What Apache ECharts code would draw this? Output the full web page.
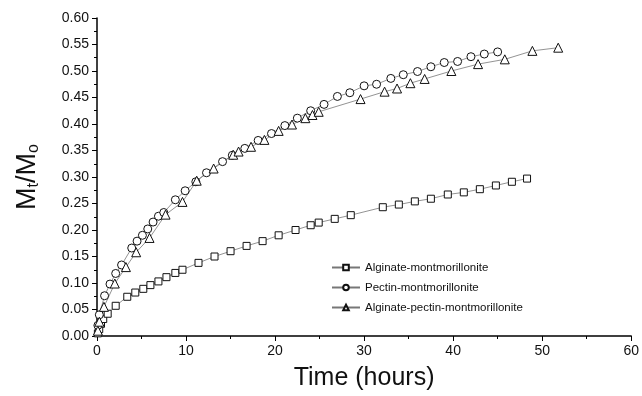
<!DOCTYPE html>
<html>
<head>
<meta charset="utf-8">
<script src="https://cdn.jsdelivr.net/npm/echarts@6/dist/echarts.min.js"></script>
<style>
  html, body { margin: 0; padding: 0; background: #fff; }
  #chart { width: 642px; height: 396px; }
</style>
</head>
<body>
<div id="chart"></div>
<script>
// Alginate-montmorillonite (squares): [time (h), Mt/Mo]
const alginate = [
  [0.1, 0.005], [0.25, 0.013], [0.45, 0.023], [0.7, 0.032], [1.2, 0.042],
  [2.1, 0.057], [3.4, 0.074], [4.3, 0.082], [5.2, 0.089], [6.0, 0.096],
  [6.9, 0.103], [7.8, 0.111], [8.8, 0.119], [9.6, 0.125], [11.4, 0.138],
  [13.2, 0.150], [15.0, 0.160], [16.8, 0.170], [18.6, 0.179], [20.4, 0.190],
  [22.3, 0.200], [24.0, 0.209], [24.9, 0.214], [26.7, 0.221], [28.5, 0.228],
  [32.1, 0.243], [33.9, 0.248], [35.7, 0.254], [37.5, 0.259], [39.4, 0.267],
  [41.2, 0.271], [43.0, 0.277], [44.8, 0.284], [46.6, 0.291], [48.3, 0.297]
];

// Pectin-montmorillonite (circles)
const pectin = [
  [0.1, 0.02], [0.26, 0.040], [0.85, 0.076], [1.46, 0.098], [2.1, 0.118],
  [2.76, 0.134], [3.9, 0.166], [4.5, 0.179], [5.1, 0.190], [5.7, 0.202],
  [6.3, 0.215], [6.9, 0.226], [7.5, 0.233], [8.8, 0.257], [9.9, 0.274],
  [11.1, 0.291], [12.3, 0.308], [14.1, 0.329], [15.2, 0.341], [16.6, 0.354],
  [18.1, 0.369], [19.6, 0.382], [21.1, 0.397], [22.5, 0.411], [24.0, 0.425],
  [25.5, 0.437], [27.0, 0.452], [28.4, 0.459], [30.0, 0.472], [31.4, 0.475],
  [33.0, 0.486], [34.4, 0.493], [36.0, 0.499], [37.5, 0.508], [39.0, 0.516],
  [40.5, 0.518], [42.0, 0.527], [43.5, 0.532], [45.0, 0.536]
];

// Alginate-pectin-montmorillonite (triangles)
const alginatePectin = [
  [0.1, 0.01], [0.26, 0.027], [0.78, 0.055], [2.0, 0.099], [3.25, 0.130],
  [4.4, 0.158], [5.9, 0.185], [7.7, 0.229], [9.6, 0.253], [11.2, 0.293],
  [13.1, 0.316], [15.3, 0.342], [15.9, 0.348], [17.3, 0.357], [18.8, 0.370],
  [20.4, 0.387], [21.9, 0.399], [23.4, 0.411], [24.2, 0.417], [24.9, 0.423],
  [29.6, 0.447], [32.3, 0.461], [33.7, 0.467], [35.2, 0.477], [36.8, 0.485],
  [39.8, 0.500], [42.8, 0.513], [45.8, 0.522], [48.9, 0.538], [51.8, 0.544]
];

const seriesNames = ['Alginate-montmorillonite', 'Pectin-montmorillonite', 'Alginate-pectin-montmorillonite'];

const font = 'Liberation Sans, Arial, sans-serif';

function makeSeries(name, data, symbol, size) {
  return {
    name: name,
    type: 'line',
    data: data,
    symbol: symbol,
    symbolSize: size,
    showAllSymbol: true,
    lineStyle: { color: '#777', width: 0.8 },
    itemStyle: { color: '#fff', borderColor: '#111', borderWidth: 1 },
    emphasis: { disabled: true },
    animation: false
  };
}

const chart = echarts.init(document.getElementById('chart'));

chart.setOption({
  backgroundColor: '#fff',
  animation: false,
  grid: { left: 97, right: 9, top: 18, bottom: 60 },
  legend: {
    orient: 'vertical',
    left: 326,
    top: 256,
    itemGap: 7,
    itemWidth: 28,
    itemHeight: 7,
    textStyle: { fontFamily: font, fontSize: 11.5, color: '#111', lineHeight: 13 },
    data: seriesNames
  },
  xAxis: {
    type: 'value',
    min: 0,
    max: 60,
    interval: 10,
    name: 'Time (hours)',
    nameLocation: 'middle',
    nameGap: 30,
    nameTextStyle: { fontFamily: font, fontSize: 25, color: '#111' },
    axisLine: { onZero: false, lineStyle: { color: '#000', width: 1.5 } },
    axisTick: { show: true, inside: false, length: 5, lineStyle: { color: '#000' } },
    minorTick: { show: true, splitNumber: 2, length: 3, lineStyle: { color: '#000' } },
    splitLine: { show: false },
    axisLabel: { fontFamily: font, fontSize: 14, color: '#111', margin: 8 }
  },
  yAxis: {
    type: 'value',
    min: 0,
    max: 0.6,
    interval: 0.05,
    name: 'M{sub|t}/M{sub|o}',
    nameLocation: 'middle',
    nameGap: 55,
    nameRotate: 90,
    nameTextStyle: {
      fontFamily: font, fontSize: 27, color: '#111',
      rich: { sub: { fontFamily: font, fontSize: 16, color: '#111', verticalAlign: 'bottom', padding: [12, 0, 0, 0] } }
    },
    axisLine: { show: true, onZero: false, lineStyle: { color: '#000', width: 1.5 } },
    axisTick: { show: true, inside: false, length: 5, lineStyle: { color: '#000' } },
    minorTick: { show: true, splitNumber: 2, length: 3, lineStyle: { color: '#000' } },
    splitLine: { show: false },
    axisLabel: {
      fontFamily: font, fontSize: 14, color: '#111', margin: 8,
      formatter: function (v) { return v.toFixed(2); }
    }
  },
  series: [
    makeSeries(seriesNames[0], alginate, 'rect', 7),
    makeSeries(seriesNames[1], pectin, 'circle', 8),
    makeSeries(seriesNames[2], alginatePectin, 'triangle', 9)
  ]
});
</script>
</body>
</html>
